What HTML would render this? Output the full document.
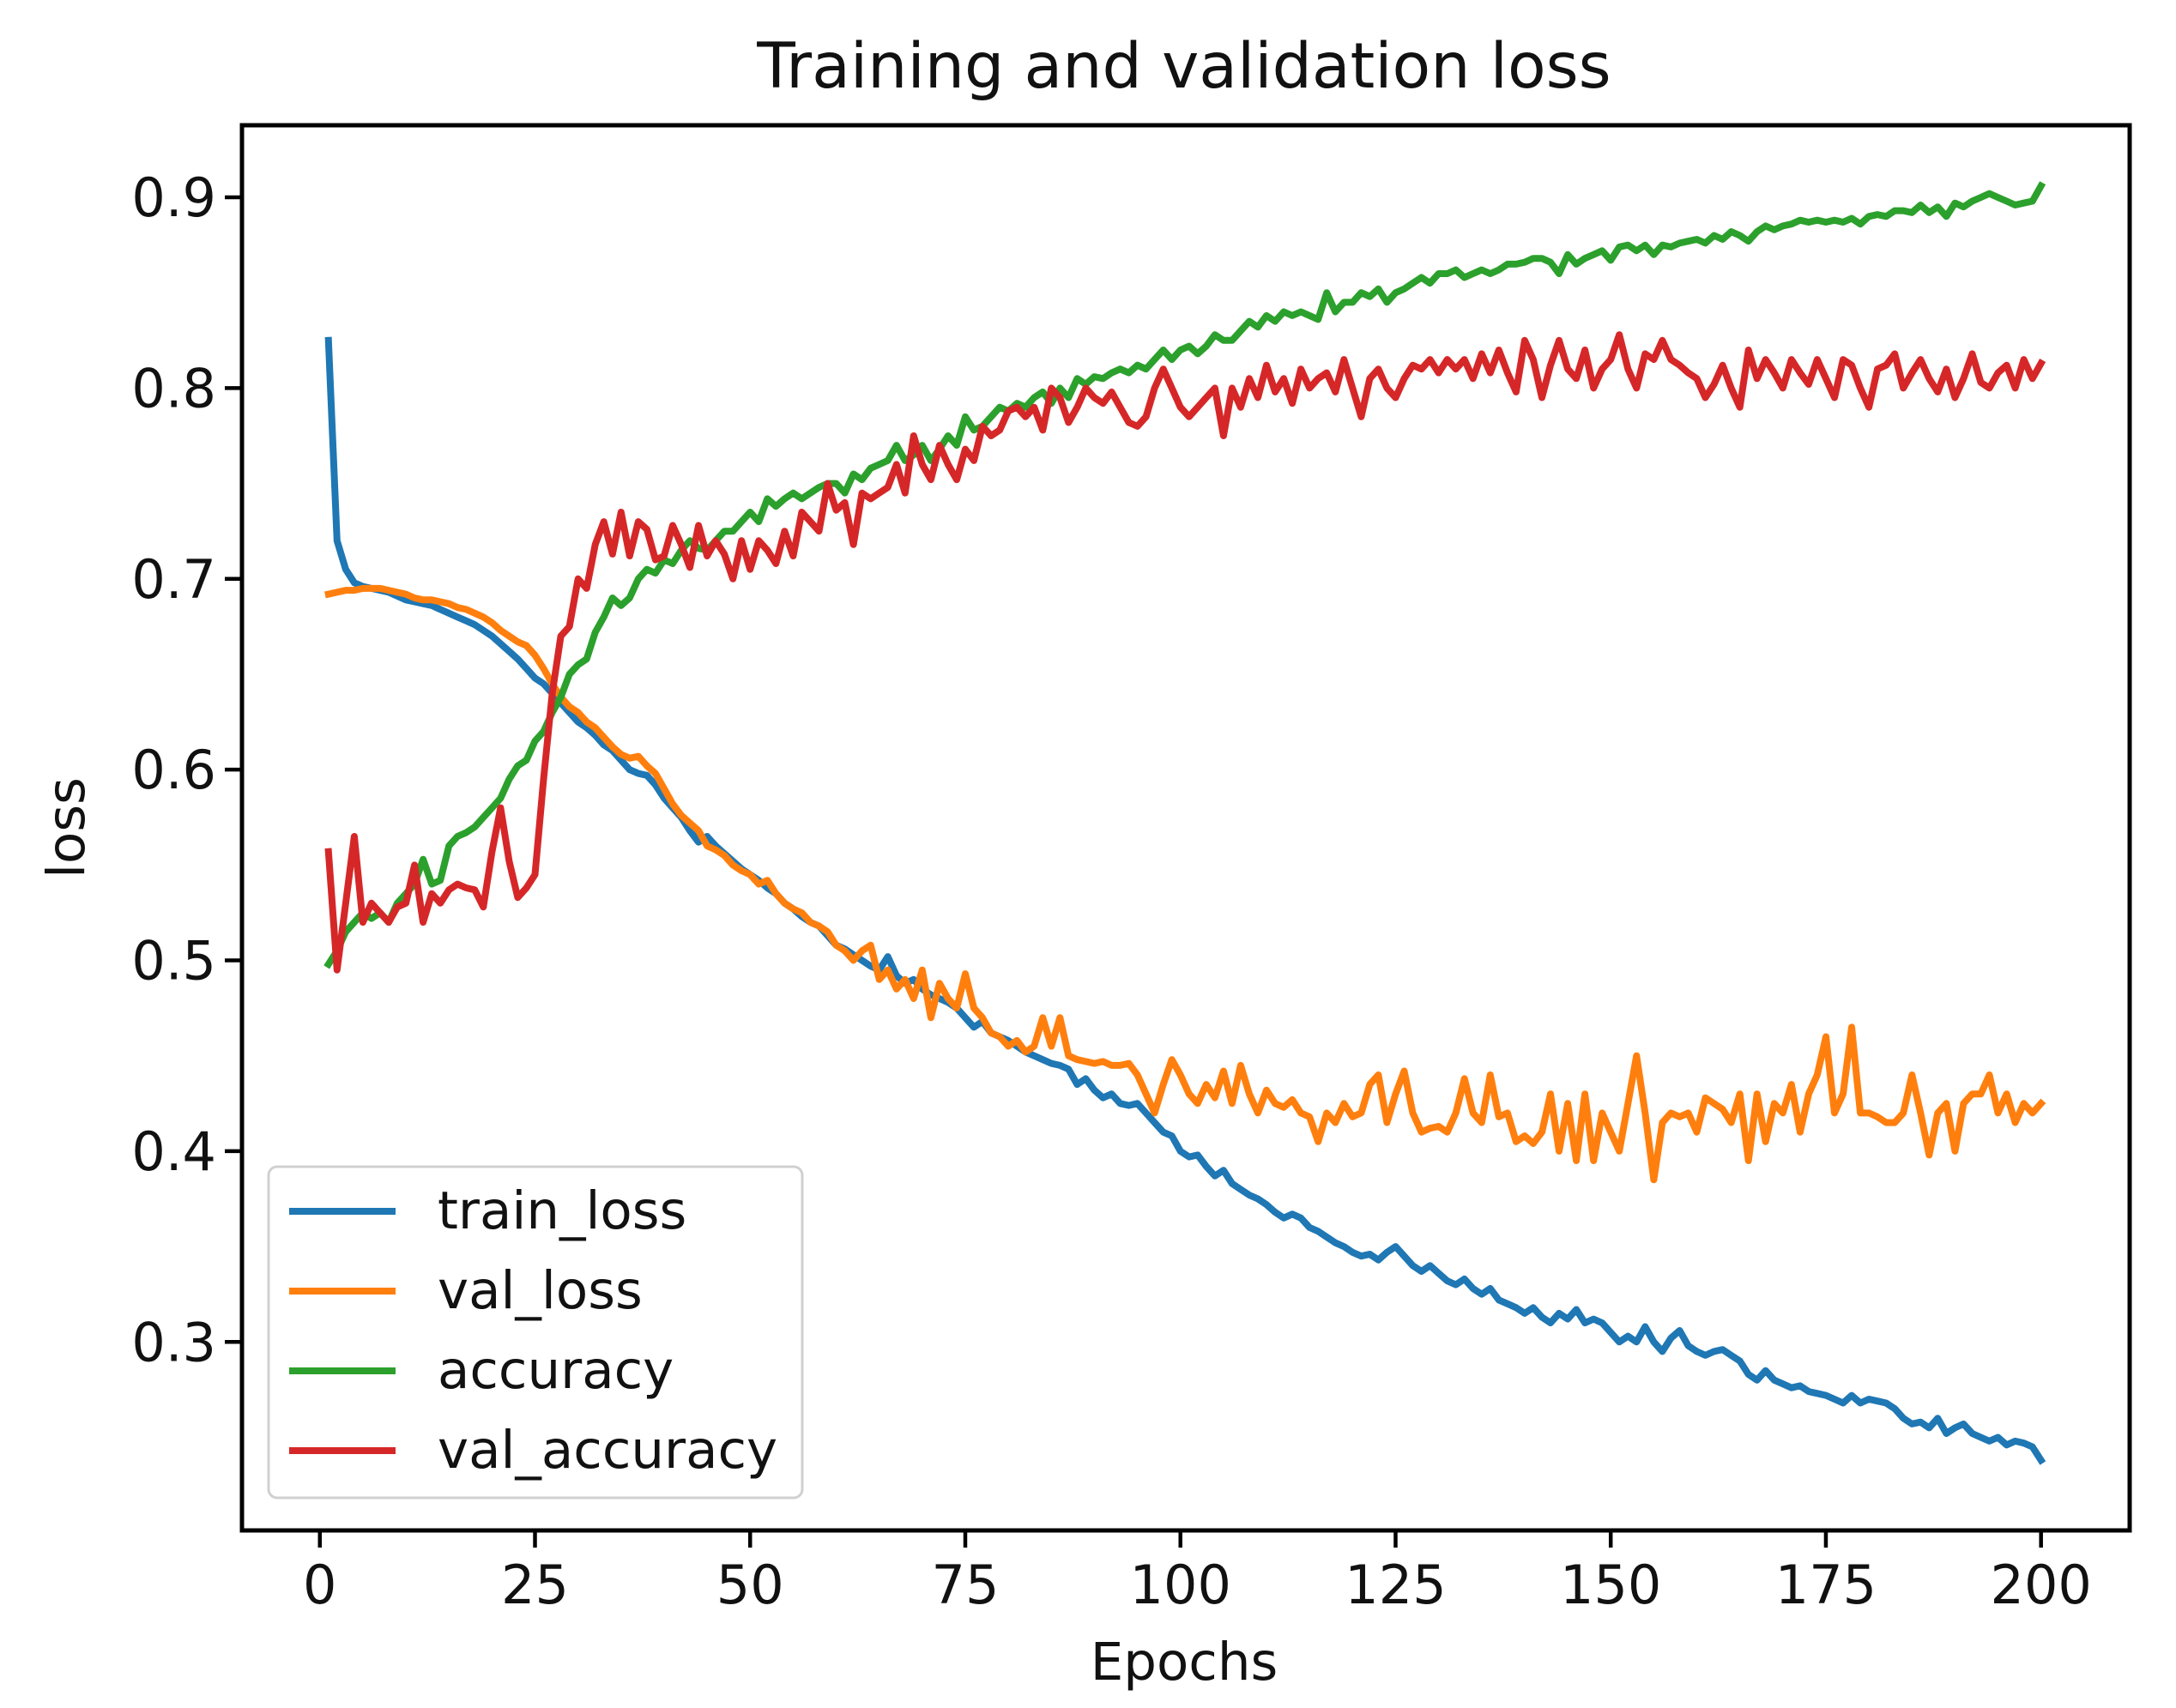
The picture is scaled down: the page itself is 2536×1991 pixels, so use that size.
<!DOCTYPE html>
<html><head><meta charset="utf-8"><style>
html,body{margin:0;padding:0;background:#fff;}
svg{display:block;font-family:"DejaVu Sans","Liberation Sans",sans-serif;}
</style></head><body>
<svg id="chart" width="2536" height="1991" viewBox="0 0 2536 1991" xmlns="http://www.w3.org/2000/svg">
<rect width="2536" height="1991" fill="#fff"/>
<text x="1380" y="102" font-size="73" text-anchor="middle" fill="#111">Training and validation loss</text>
<text x="1380" y="1958" font-size="61" text-anchor="middle" fill="#111">Epochs</text>
<text x="0" y="0" font-size="61" text-anchor="middle" fill="#111" transform="translate(98,965) rotate(-90)">loss</text>
<g id="plot"></g>
<g id="axes"></g>
<g id="legend"></g>
</svg>
<script>
const epochs = Array.from({length:200},(_,i)=>i+1);
const trainLoss=[0.825,0.72,0.705,0.698,0.696,0.695,0.694,0.693,0.691,0.689,0.688,0.687,0.686,0.684,0.682,0.680,0.678,0.676,0.673,0.670,0.666,0.662,0.658,0.653,0.648,0.645,0.640,0.635,0.630,0.625,0.622,0.618,0.613,0.610,0.605,0.600,0.598,0.597,0.592,0.585,0.580,0.575,0.568,0.562,0.565,0.560,0.556,0.552,0.548,0.545,0.542,0.538,0.535,0.530,0.527,0.523,0.520,0.518,0.513,0.508,0.506,0.503,0.500,0.497,0.495,0.502,0.492,0.488,0.490,0.485,0.482,0.480,0.478,0.475,0.470,0.465,0.468,0.462,0.460,0.458,0.455,0.452,0.450,0.448,0.446,0.445,0.443,0.435,0.438,0.432,0.428,0.430,0.425,0.424,0.425,0.420,0.415,0.410,0.408,0.400,0.397,0.398,0.392,0.387,0.390,0.383,0.380,0.377,0.375,0.372,0.368,0.365,0.367,0.365,0.360,0.358,0.355,0.352,0.350,0.347,0.345,0.346,0.343,0.347,0.350,0.345,0.340,0.337,0.340,0.336,0.332,0.330,0.333,0.328,0.325,0.328,0.322,0.320,0.318,0.315,0.318,0.313,0.310,0.315,0.312,0.317,0.310,0.312,0.310,0.305,0.300,0.303,0.300,0.308,0.300,0.295,0.302,0.306,0.298,0.295,0.293,0.295,0.296,0.293,0.290,0.283,0.280,0.285,0.280,0.278,0.276,0.277,0.274,0.273,0.272,0.270,0.268,0.272,0.268,0.270,0.269,0.268,0.265,0.260,0.257,0.258,0.255,0.260,0.252,0.255,0.257,0.252,0.250,0.248,0.250,0.246,0.248,0.247,0.245,0.238];
const valLoss=[0.692,0.693,0.694,0.694,0.695,0.695,0.695,0.694,0.693,0.692,0.690,0.689,0.689,0.688,0.687,0.685,0.684,0.682,0.680,0.677,0.673,0.670,0.667,0.665,0.660,0.653,0.645,0.638,0.633,0.630,0.625,0.622,0.617,0.612,0.608,0.606,0.607,0.602,0.598,0.590,0.582,0.576,0.572,0.568,0.560,0.558,0.555,0.550,0.547,0.545,0.540,0.542,0.535,0.530,0.527,0.525,0.520,0.518,0.515,0.508,0.505,0.500,0.505,0.508,0.490,0.495,0.485,0.490,0.480,0.495,0.470,0.488,0.480,0.475,0.493,0.475,0.470,0.462,0.460,0.455,0.458,0.452,0.455,0.470,0.455,0.470,0.450,0.448,0.447,0.446,0.447,0.445,0.445,0.446,0.440,0.430,0.420,0.435,0.448,0.440,0.430,0.425,0.435,0.428,0.442,0.425,0.445,0.430,0.420,0.432,0.425,0.423,0.427,0.420,0.418,0.405,0.420,0.415,0.425,0.418,0.420,0.435,0.440,0.415,0.430,0.442,0.420,0.410,0.412,0.413,0.410,0.420,0.438,0.420,0.415,0.440,0.418,0.420,0.405,0.408,0.404,0.410,0.430,0.400,0.425,0.395,0.430,0.395,0.420,0.410,0.400,0.425,0.450,0.420,0.385,0.415,0.420,0.418,0.420,0.410,0.428,0.425,0.422,0.415,0.430,0.395,0.430,0.405,0.425,0.420,0.435,0.410,0.430,0.440,0.460,0.420,0.430,0.465,0.420,0.420,0.418,0.415,0.415,0.420,0.440,0.420,0.398,0.420,0.425,0.400,0.425,0.430,0.430,0.440,0.420,0.430,0.415,0.425,0.420,0.425];
const accuracy=[0.498,0.505,0.515,0.520,0.525,0.522,0.525,0.520,0.530,0.535,0.540,0.553,0.540,0.542,0.560,0.565,0.567,0.570,0.575,0.580,0.585,0.595,0.602,0.605,0.615,0.620,0.630,0.638,0.650,0.655,0.658,0.672,0.680,0.690,0.686,0.690,0.700,0.705,0.703,0.710,0.708,0.715,0.720,0.716,0.715,0.720,0.725,0.725,0.730,0.735,0.730,0.742,0.738,0.742,0.745,0.742,0.745,0.748,0.750,0.750,0.745,0.755,0.752,0.758,0.760,0.762,0.770,0.762,0.765,0.770,0.762,0.768,0.775,0.770,0.785,0.778,0.780,0.785,0.790,0.788,0.792,0.790,0.795,0.798,0.792,0.800,0.795,0.805,0.802,0.806,0.805,0.808,0.810,0.808,0.812,0.810,0.815,0.820,0.815,0.820,0.822,0.818,0.822,0.828,0.825,0.825,0.830,0.835,0.832,0.838,0.835,0.840,0.838,0.840,0.838,0.836,0.850,0.840,0.845,0.845,0.850,0.848,0.852,0.845,0.850,0.852,0.855,0.858,0.855,0.860,0.860,0.862,0.858,0.860,0.862,0.860,0.862,0.865,0.865,0.866,0.868,0.868,0.866,0.860,0.870,0.865,0.868,0.870,0.872,0.867,0.874,0.875,0.872,0.875,0.870,0.875,0.874,0.876,0.877,0.878,0.876,0.880,0.878,0.882,0.880,0.877,0.882,0.885,0.883,0.885,0.886,0.888,0.887,0.888,0.887,0.888,0.887,0.889,0.886,0.890,0.891,0.890,0.893,0.893,0.892,0.896,0.892,0.895,0.890,0.897,0.895,0.898,0.900,0.902,0.900,0.898,0.896,0.897,0.898,0.906];
const valAccuracy=[0.557,0.495,0.530,0.565,0.520,0.530,0.525,0.520,0.528,0.530,0.550,0.520,0.535,0.530,0.537,0.540,0.538,0.537,0.528,0.557,0.580,0.552,0.533,0.538,0.545,0.595,0.640,0.670,0.675,0.700,0.695,0.718,0.730,0.713,0.735,0.712,0.730,0.726,0.710,0.712,0.728,0.718,0.706,0.728,0.712,0.720,0.713,0.700,0.720,0.705,0.720,0.715,0.708,0.725,0.712,0.735,0.730,0.725,0.750,0.736,0.740,0.718,0.745,0.742,0.745,0.748,0.760,0.745,0.775,0.760,0.752,0.770,0.760,0.752,0.768,0.762,0.780,0.775,0.778,0.788,0.790,0.785,0.790,0.778,0.800,0.795,0.782,0.790,0.800,0.795,0.792,0.798,0.790,0.782,0.780,0.785,0.800,0.810,0.800,0.790,0.785,0.790,0.795,0.800,0.775,0.800,0.790,0.805,0.795,0.812,0.798,0.805,0.792,0.810,0.800,0.805,0.808,0.798,0.815,0.800,0.785,0.805,0.810,0.800,0.795,0.805,0.812,0.810,0.815,0.808,0.815,0.810,0.815,0.805,0.818,0.808,0.820,0.808,0.798,0.825,0.815,0.795,0.812,0.825,0.810,0.805,0.820,0.800,0.810,0.815,0.828,0.810,0.800,0.818,0.815,0.825,0.815,0.812,0.808,0.805,0.795,0.802,0.812,0.800,0.790,0.820,0.805,0.815,0.808,0.800,0.815,0.808,0.802,0.815,0.805,0.795,0.815,0.812,0.800,0.790,0.810,0.812,0.818,0.800,0.808,0.815,0.805,0.798,0.810,0.795,0.805,0.818,0.803,0.800,0.808,0.812,0.800,0.815,0.805,0.813];
const xTicks=[0,25,50,75,100,125,150,175,200];
const yTicks=[0.3,0.4,0.5,0.6,0.7,0.8,0.9];
const seriesNames=["train_loss","val_loss","accuracy","val_accuracy"];

const NS="http://www.w3.org/2000/svg";
const L=282,R=2482,T=146,B=1784;
const xMin=-9.05,xMax=210.3,yMin=0.2012,yMax=0.9378;
const xs=v=>L+(v-xMin)/(xMax-xMin)*(R-L);
const ys=v=>B-(v-yMin)/(yMax-yMin)*(B-T);
const colors=["#1f77b4","#ff7f0e","#2ca02c","#d62728"];
const data=[trainLoss,valLoss,accuracy,valAccuracy];
function mk(tag,attrs,parent){const e=document.createElementNS(NS,tag);for(const k in attrs)e.setAttribute(k,attrs[k]);parent.appendChild(e);return e;}
const plot=document.getElementById('plot');
data.forEach((arr,si)=>{
  const d=arr.map((v,i)=>(i?'L':'M')+xs(epochs[i]).toFixed(1)+','+ys(v).toFixed(1)).join(' ');
  const p=mk('path',{d:d,fill:'none',stroke:colors[si],'stroke-width':8,'stroke-linejoin':'round','stroke-linecap':'square'},plot);
  
  
});
const axes=document.getElementById('axes');
const frame=mk('rect',{x:L,y:T,width:R-L,height:B-T,fill:'none',stroke:'#000','stroke-width':5},axes);


xTicks.forEach(t=>{
  const x=xs(t);
  const tk=mk('line',{x1:x,y1:B,x2:x,y2:B+20,stroke:'#000','stroke-width':4.5},axes);
  
  
  const lb=mk('text',{x:x,y:B+85,'font-size':62,'text-anchor':'middle',fill:'#111'},axes);
  lb.textContent=String(t);
  
  
});
yTicks.forEach(t=>{
  const y=ys(t);
  const tk=mk('line',{x1:L-20,y1:y,x2:L,y2:y,stroke:'#000','stroke-width':4.5},axes);
  
  
  const lb=mk('text',{x:L-30,y:y+22,'font-size':62,'text-anchor':'end',fill:'#111'},axes);
  lb.textContent=t.toFixed(1);
  
  
});
const lg=document.getElementById('legend');
const box=mk('rect',{x:313,y:1360,width:622,height:386,rx:10,fill:'#fff','fill-opacity':0.9,stroke:'#d0d0d0','stroke-width':3},lg);


seriesNames.forEach((n,i)=>{
  const y=1412+i*93;
  const ln=mk('line',{x1:337,y1:y,x2:461,y2:y,stroke:colors[i],'stroke-width':8},lg);
  
  
  const tx=mk('text',{x:510,y:y+20,'font-size':61,fill:'#111'},lg);
  tx.textContent=n;
  
  
});
</script>
</body></html>
